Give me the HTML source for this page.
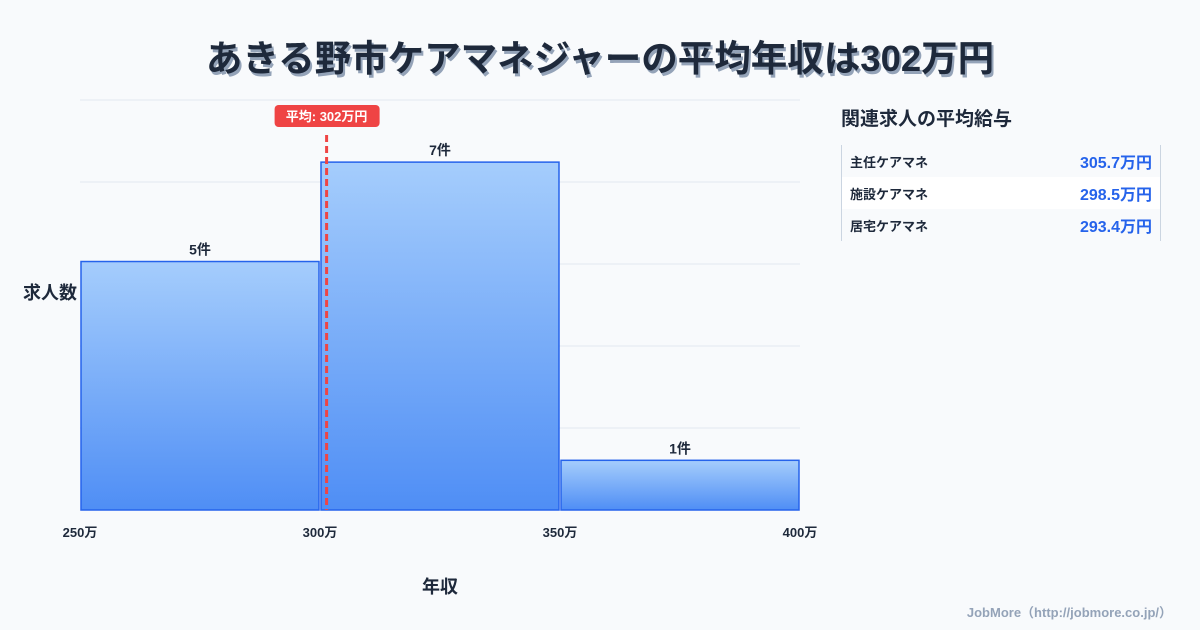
<!DOCTYPE html>
<html><head><meta charset="utf-8">
<style>
body{margin:0;width:1200px;height:630px;background:#f8fafc;font-family:"Liberation Sans","Noto Sans CJK JP",sans-serif;overflow:hidden;position:relative;color:#1e293b}
.title{position:absolute;top:29px;left:0;width:1200px;text-align:center;font-size:36.5px;font-weight:bold;color:#1e293b;text-shadow:2px 3px 0 #94a3b8}
.side-h{position:absolute;left:841px;top:104px;font-size:19px;font-weight:bold}
.tbl{position:absolute;left:841px;top:145px;width:318px;border-left:1px solid #cbd5e1;border-right:1px solid #cbd5e1}
.row{height:32px;display:flex;justify-content:space-between;align-items:center;padding:0 8px 0 8px;font-size:13px;font-weight:bold}
.row .v{color:#2563eb;font-size:16px}
.row:nth-child(2){background:#fff}
.foot{position:absolute;right:28px;top:602px;font-size:13px;color:#94a3b8;font-weight:bold}
</style></head><body>
<div class="title">あきる野市ケアマネジャーの平均年収は302万円</div>
<div class="side-h">関連求人の平均給与</div>
<div class="tbl">
<div class="row"><span>主任ケアマネ</span><span class="v">305.7万円</span></div>
<div class="row"><span>施設ケアマネ</span><span class="v">298.5万円</span></div>
<div class="row"><span>居宅ケアマネ</span><span class="v">293.4万円</span></div>
</div>
<div class="foot">JobMore（http://jobmore.co.jp/）</div>
<svg id="chart" width="1200" height="630" style="position:absolute;left:0;top:0">
<defs><linearGradient id="g" x1="0" y1="0" x2="0" y2="1"><stop offset="0" stop-color="#a5cdfc"/><stop offset="1" stop-color="#4f8ef5"/></linearGradient></defs>
</svg>
<script>
const binStarts=[250,300,350];
const binWidth=50;
const counts=[5,7,1];
const xTicks=[250,300,350,400];
const avg=302;
const yMax=8.25;
const svg=document.getElementById('chart');
const NS='http://www.w3.org/2000/svg';
const x=v=>80+(v-250)*(720/150);
const y=v=>510-v*(410/yMax);
function mk(t,a,txt){const e=document.createElementNS(NS,t);for(const k in a)e.setAttribute(k,a[k]);if(txt!=null)e.textContent=txt;svg.appendChild(e);return e;}
for(let i=0;i<=5;i++){const gy=100+i*82;const l=mk('line',{x1:80,x2:800,y1:gy,y2:gy,stroke:'#e2e8f0','stroke-width':1});

}
binStarts.forEach((b,i)=>{const x0=x(b)+1,x1=x(b+binWidth)-1;
const r=mk('rect',{x:x0,y:y(counts[i]),width:x1-x0,height:510-y(counts[i]),fill:'url(#g)',stroke:'#2563eb','stroke-width':1.5});


const t=mk('text',{x:(x0+x1)/2,y:y(counts[i])-7,'text-anchor':'middle','font-size':14,'font-weight':'bold',fill:'#1e293b'},counts[i]+'件');

});
xTicks.forEach(v=>{const t=mk('text',{x:x(v),y:537,'text-anchor':'middle','font-size':13,'font-weight':'bold',fill:'#1e293b'},v+'万');

});
const ax=x(avg)-3;
const al=mk('line',{x1:ax,x2:ax,y1:135,y2:510,stroke:'#ef4444','stroke-width':3,'stroke-dasharray':'7,4'});


const ab=mk('rect',{x:ax-52,y:105,width:105,height:22,rx:4,fill:'#ef4444'});


const at=mk('text',{x:ax,y:121,'text-anchor':'middle','font-size':13,'font-weight':'bold',fill:'#fff'},'平均: '+avg+'万円');


const yt=mk('text',{x:50,y:299,'text-anchor':'middle','font-size':18,'font-weight':'bold',fill:'#1e293b'},'求人数');


const xt=mk('text',{x:440,y:593,'text-anchor':'middle','font-size':18,'font-weight':'bold',fill:'#1e293b'},'年収');


</script>
</body></html>
